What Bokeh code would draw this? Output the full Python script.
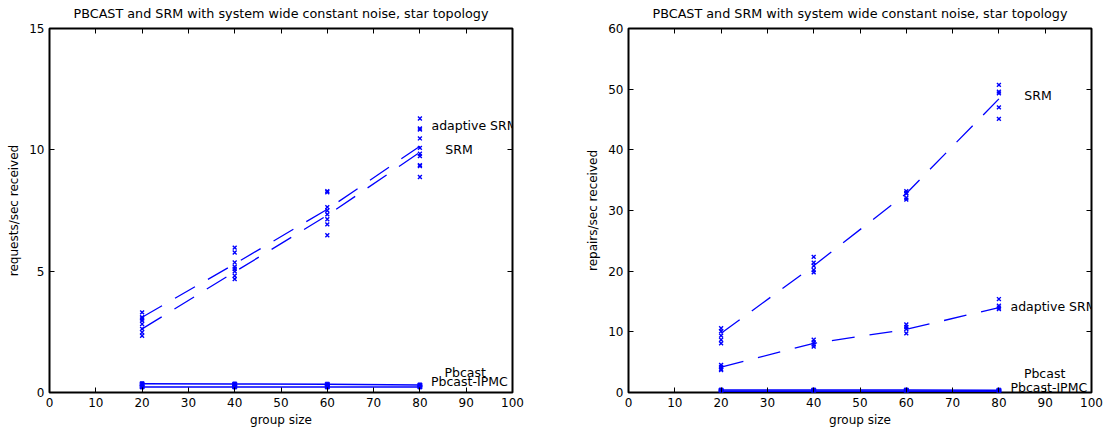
from bokeh.plotting import figure
from bokeh.layouts import row
from bokeh.models import Range1d, LinearAxis, FixedTicker
from bokeh.core.properties import value
from bokeh.embed import file_html
from bokeh.resources import INLINE

# ---------------- data ----------------
group_sizes = [20, 40, 60, 80]

# Left chart: requests/sec received
req_adaptive_samples = [
    [3.30, 3.10, 3.05, 2.96],
    [5.97, 5.77, 5.36, 5.18],
    [8.30, 8.25, 7.64, 7.50],
    [11.29, 10.88, 10.84, 10.47, 10.08],
]
req_srm_samples = [
    [2.82, 2.62, 2.48, 2.34],
    [4.99, 4.81, 4.67, 5.10],
    [7.34, 7.14, 6.93, 6.48],
    [9.84, 9.74, 9.37, 9.33, 8.88],
]
req_adaptive_line = [3.10, 5.30, 7.55, 10.15]
req_srm_line = [2.62, 4.97, 7.30, 9.90]
req_pbcast = [0.36, 0.35, 0.34, 0.31]
req_pbcast_ipmc = [0.23, 0.23, 0.23, 0.23]

# Right chart: repairs/sec received
rep_srm_samples = [
    [10.6, 10.1, 9.37, 8.7, 8.1],
    [22.36, 21.4, 20.9, 20.2, 19.8],
    [33.2, 32.9, 32.8, 32.1, 31.8],
    [50.7, 49.6, 49.3, 47.0, 45.1],
]
rep_adaptive_samples = [
    [4.55, 4.2, 3.9, 3.7],
    [8.7, 8.27, 7.9, 7.56],
    [11.2, 10.8, 10.47, 9.75],
    [15.4, 14.3, 14.0, 13.75],
]
rep_srm_line = [9.75, 20.9, 32.8, 48.4]
rep_adaptive_line = [4.2, 8.1, 10.4, 14.0]
rep_pbcast = [0.40, 0.40, 0.40, 0.38]
rep_pbcast_ipmc = [0.20, 0.20, 0.20, 0.20]

title_text = "PBCAST and SRM with system wide constant noise, star topology"
series_names = ["adaptive SRM", "SRM", "Pbcast", "Pbcast-IPMC"]
x_ticks = [0, 10, 20, 30, 40, 50, 60, 70, 80, 90, 100]
left_y_ticks = [0, 5, 10, 15]
right_y_ticks = [0, 10, 20, 30, 40, 50, 60]

# label anchor positions (data units)
left_label_x = [82.5, 85.5, 85.3, 82.4]
left_label_y = [11.0, 10.0, 0.83, 0.46]
right_label_x = [82.5, 85.5, 85.4, 82.5]
right_label_y = [14.1, 48.9, 3.07, 0.87]

BLUE = "#0000ff"
FONT = "DejaVu Sans"


def flatten(samples):
    xs, ys = [], []
    for g, vals in zip(group_sizes, samples):
        for v in vals:
            xs.append(g)
            ys.append(v)
    return xs, ys


def make_fig(width, bl, br, ymax, yticks, ylabel):
    p = figure(width=width, height=434, output_backend="svg", toolbar_location=None,
               x_range=Range1d(0, 100), y_range=Range1d(0, ymax),
               min_border_left=bl, min_border_right=br, min_border_top=28, min_border_bottom=42,
               title=title_text)
    p.title.align = "center"
    p.title.vertical_align = "top"
    p.title.text_font = FONT
    p.title.text_font_size = "12.75px"
    p.title.text_font_style = "normal"
    p.title.text_color = "black"
    p.title.standoff = 11
    p.grid.visible = False
    p.outline_line_color = "black"
    p.outline_line_width = 2
    p.background_fill_color = "white"
    p.border_fill_color = "white"
    for ax, ticks in ((p.xaxis[0], x_ticks), (p.yaxis[0], yticks)):
        ax.ticker = FixedTicker(ticks=ticks)
        ax.major_tick_in = 5
        ax.major_tick_out = 0
        ax.major_tick_line_color = "black"
        ax.minor_tick_line_color = None
        ax.axis_line_color = None
        ax.major_label_text_font = FONT
        ax.major_label_text_font_size = "12px"
        ax.major_label_text_color = "black"
        ax.axis_label_text_font = FONT
        ax.axis_label_text_font_size = "12px"
        ax.axis_label_text_font_style = "normal"
        ax.axis_label_text_color = "black"
        ax.major_label_standoff = 5
    p.xaxis[0].axis_label = "group size"
    p.xaxis[0].axis_label_standoff = 3
    p.yaxis[0].axis_label = ylabel
    p.yaxis[0].axis_label_standoff = 5
    # box ticks on top and right (no labels)
    for loc, ticks in (("above", x_ticks), ("right", yticks)):
        a = LinearAxis(ticker=FixedTicker(ticks=ticks), major_tick_in=5, major_tick_out=0,
                       major_tick_line_color="black",
                       minor_tick_line_color=None, axis_line_color=None,
                       major_label_text_color=None, major_label_text_font_size="1px",
                       major_label_standoff=0)
        p.add_layout(a, loc)
    return p


def draw(p, adapt_samples, srm_samples, adapt_line, srm_line, pb, pbi, lx, ly):
    p.line(group_sizes, adapt_line, line_color=BLUE, line_width=1.3, line_dash="23 15")
    p.line(group_sizes, srm_line, line_color=BLUE, line_width=1.3, line_dash="23 15")
    for s in (adapt_samples, srm_samples):
        xs, ys = flatten(s)
        p.scatter(xs, ys, marker="x", size=5.5, line_color=BLUE, line_width=1.4)
    for s in (pb, pbi):
        p.line(group_sizes, s, line_color=BLUE, line_width=1.5)
        p.scatter(group_sizes, s, marker="square", size=4, fill_color=BLUE, line_color=BLUE)
    p.text(x=lx, y=ly, text=series_names, text_font=value(FONT), text_font_size="12.5px",
           text_baseline="middle", text_align="left", text_color="black")


p1 = make_fig(560, 49, 48, 15, left_y_ticks, "requests/sec received")
draw(p1, req_adaptive_samples, req_srm_samples, req_adaptive_line, req_srm_line,
     req_pbcast, req_pbcast_ipmc, left_label_x, left_label_y)

p2 = make_fig(547, 68, 16, 60, right_y_ticks, "repairs/sec received")
draw(p2, rep_adaptive_samples, rep_srm_samples, rep_adaptive_line, rep_srm_line,
     rep_pbcast, rep_pbcast_ipmc, right_label_x, right_label_y)

layout = row(p1, p2)
open("out.html", "w").write(file_html(layout, INLINE))
